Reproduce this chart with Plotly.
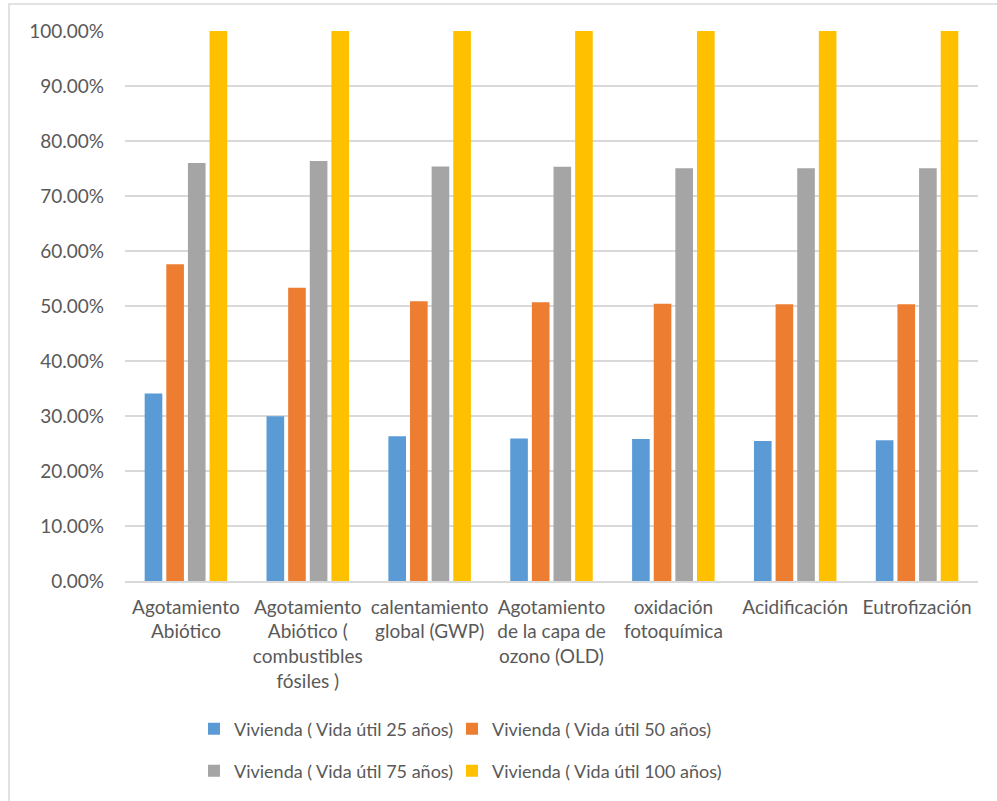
import plotly.graph_objects as go

categories = [
    "Agotamiento<br>Abiótico",
    "Agotamiento<br>Abiótico (<br>combustibles<br>fósiles )",
    "calentamiento<br>global (GWP)",
    "Agotamiento<br>de la capa de<br>ozono (OLD)",
    "oxidación<br>fotoquímica",
    "Acidificación",
    "Eutrofización",
]

vida_25 = [0.3407, 0.2995, 0.2630, 0.2590, 0.2580, 0.2545, 0.2560]
vida_50 = [0.5758, 0.5330, 0.5085, 0.5070, 0.5040, 0.5030, 0.5030]
vida_75 = [0.7600, 0.7636, 0.7535, 0.7530, 0.7505, 0.7505, 0.7505]
vida_100 = [1.0, 1.0, 1.0, 1.0, 1.0, 1.0, 1.0]

series_names = [
    "Vivienda ( Vida útil 25 años)",
    "Vivienda ( Vida útil 50 años)",
    "Vivienda ( Vida útil 75 años)",
    "Vivienda ( Vida útil 100 años)",
]
series_values = [vida_25, vida_50, vida_75, vida_100]
series_colors = ["#5B9BD5", "#ED7D31", "#A5A5A5", "#FFC000"]

y_ticks = [i / 10 for i in range(11)]

FONT = "Lato, Carlito, sans-serif"
TEXT_COLOR = "#595959"
GRID = "#D9D9D9"

W, H = 997, 801
ML, MR, MT, MB = 125, 19, 31, 220
PW, PH = W - ML - MR, H - MT - MB

# legend slots: 2 columns x 2 rows (pixel positions of each legend box)
legend_ids = ["legend", "legend2", "legend3", "legend4"]
legend_px = [(194, 729), (452, 729), (194, 771), (452, 771)]

fig = go.Figure()
x_idx = list(range(len(categories)))
for name, vals, color, leg in zip(series_names, series_values, series_colors, legend_ids):
    fig.add_trace(go.Bar(
        x=x_idx, y=vals, name=name,
        marker=dict(color=color, line=dict(width=0)),
        legend=leg,
    ))

legend_layout = {}
for leg, (px, py) in zip(legend_ids, legend_px):
    legend_layout[leg] = dict(
        orientation="h",
        font=dict(family=FONT, size=18, color=TEXT_COLOR),
        xanchor="left", yanchor="middle",
        x=(px - ML) / PW, y=(H - MB - py) / PH,
        bgcolor="rgba(0,0,0,0)",
        itemclick=False, itemdoubleclick=False,
    )

fig.update_layout(
    width=W, height=H,
    margin=dict(l=ML, r=MR, t=MT, b=MB, pad=0),
    paper_bgcolor="white", plot_bgcolor="white",
    barmode="group", bargap=0.29, bargroupgap=0.185,
    font=dict(family=FONT, size=19, color=TEXT_COLOR),
    xaxis=dict(
        tickmode="array", tickvals=x_idx, ticktext=categories,
        range=[-0.5, len(categories) - 0.5],
        showgrid=False, showline=True, linecolor=GRID, linewidth=1.5,
        ticks="", ticklabelstandoff=8,
        tickfont=dict(family=FONT, size=19, color=TEXT_COLOR),
        zeroline=False,
    ),
    yaxis=dict(
        range=[0, 1.0], tickvals=y_ticks, tickformat=".2%",
        showgrid=True, gridcolor=GRID, gridwidth=1.5,
        zeroline=False, showline=False, ticks="", ticklen=0,
        ticklabelstandoff=20,
        tickfont=dict(family=FONT, size=19, color=TEXT_COLOR),
        automargin=False,
    ),
    showlegend=True,
    **legend_layout,
)

# Outer chart border
fig.add_shape(
    type="rect", xref="paper", yref="paper",
    x0=(9 - ML) / PW, x1=(W + 5 - ML) / PW,
    y0=(H - MB - (H + 5)) / PH, y1=(H - MB - 4) / PH,
    line=dict(color=GRID, width=1.5), fillcolor="rgba(0,0,0,0)", layer="below",
)

fig.write_html("out.html")
